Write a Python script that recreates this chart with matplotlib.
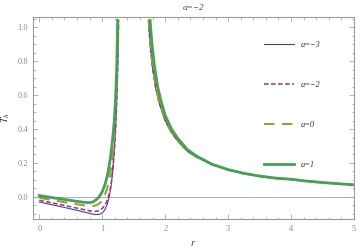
import numpy as np
import matplotlib
matplotlib.use("Agg")
import matplotlib.pyplot as plt

plt.rcParams['font.family'] = ['Liberation Serif', 'DejaVu Serif']
plt.rcParams['mathtext.fontset'] = 'stix'

# values: left branch (r < ~1.26) and right branch (r > ~1.73)
r_left_m3 = [0, 0.2, 0.4, 0.6, 0.7, 0.8, 0.85, 0.9, 0.95, 1.0, 1.04, 1.08, 1.11, 1.14, 1.16, 1.18, 1.2, 1.22, 1.24, 1.26]
T_left_m3 = [-0.03, -0.046, -0.062, -0.079, -0.088, -0.097, -0.101, -0.104, -0.103, -0.095, -0.077, -0.042, 0.0, 0.06, 0.13, 0.22, 0.33, 0.47, 0.7, 1.04]

r_left_m2 = [0, 0.2, 0.4, 0.6, 0.7, 0.8, 0.88, 0.95, 1.0, 1.05, 1.09, 1.12, 1.15, 1.17, 1.19, 1.21, 1.23, 1.25, 1.26]
T_left_m2 = [-0.02, -0.035, -0.05, -0.066, -0.074, -0.082, -0.086, -0.081, -0.068, -0.045, -0.01, 0.03, 0.1, 0.17, 0.26, 0.38, 0.55, 0.82, 1.04]

r_left_0 = [0, 0.2, 0.4, 0.6, 0.7, 0.8, 0.87, 0.93, 0.98, 1.03, 1.07, 1.1, 1.13, 1.16, 1.18, 1.2, 1.22, 1.24, 1.255]
T_left_0 = [-0.005, -0.018, -0.031, -0.043, -0.049, -0.054, -0.053, -0.045, -0.03, 0.0, 0.04, 0.08, 0.14, 0.23, 0.31, 0.42, 0.58, 0.82, 1.04]

r_left_1 = [0, 0.2, 0.4, 0.6, 0.7, 0.78, 0.85, 0.9, 0.95, 1.0, 1.05, 1.09, 1.13, 1.16, 1.19, 1.21, 1.23, 1.245]
T_left_1 = [0.008, -0.004, -0.015, -0.026, -0.031, -0.034, -0.03, -0.018, 0.0, 0.03, 0.08, 0.14, 0.23, 0.32, 0.44, 0.56, 0.75, 1.04]

r_right = [1.735, 1.76, 1.8, 1.85, 1.9, 2.0, 2.1, 2.2, 2.35, 2.5, 2.75, 3.0, 3.25, 3.5, 3.75, 4.0, 4.25, 4.5, 4.75, 5.0]
T_right_m3 = [1.04, 0.9, 0.76, 0.64, 0.56, 0.45, 0.38, 0.33, 0.27, 0.235, 0.19, 0.16, 0.138, 0.122, 0.11, 0.104, 0.093, 0.085, 0.078, 0.071]
T_right_m2 = T_right_m3
r_right_0 = [1.74, 1.765, 1.805, 1.855, 1.905, 2.0, 2.1, 2.2, 2.35, 2.5, 2.75, 3.0, 3.25, 3.5, 3.75, 4.0, 4.25, 4.5, 4.75, 5.0]
T_right_0 = T_right_m3
r_right_1 = [1.76, 1.79, 1.83, 1.88, 1.93, 2.0, 2.1, 2.2, 2.35, 2.5, 2.75, 3.0, 3.25, 3.5, 3.75, 4.0, 4.25, 4.5, 4.75, 5.0]
T_right_1 = [1.04, 0.9, 0.77, 0.65, 0.57, 0.48, 0.40, 0.345, 0.28, 0.24, 0.192, 0.161, 0.139, 0.123, 0.111, 0.104, 0.093, 0.085, 0.078, 0.071]

labels = ["a=\u22123", "a=\u22122", "a=0", "a=1"]

fig = plt.figure(figsize=(3.61, 2.5), dpi=100)
ax = fig.add_axes([33/361, 1-219/250, (354-33)/361, (219-17)/250])

ax.axhline(0, color='#b0b0b0', lw=0.7, zorder=1)

styles = [
    dict(color='#4b3fa6', lw=0.8),
    dict(color='#a3326b', lw=1.1, dashes=(3, 1.6)),
    dict(color='#a39a3a', lw=1.5, dashes=(5, 3.6)),
    dict(color='#45a153', lw=2.0),
]
series = [
    (r_left_m3, T_left_m3, r_right, T_right_m3),
    (r_left_m2, T_left_m2, r_right, T_right_m2),
    (r_left_0, T_left_0, r_right_0, T_right_0),
    (r_left_1, T_left_1, r_right_1, T_right_1),
]
for (rl, tl, rr, tr), st, lab in zip(series, styles, labels):
    ax.plot(rl, tl, label=lab, zorder=2, **st)
    ax.plot(rr, tr, zorder=2, **st)

ax.set_xlim(-0.1, 5.0)
ax.set_ylim(-0.13, 1.06)
ax.set_xticks(range(6))
ax.set_xticks(np.arange(-0.0, 5.01, 0.2), minor=True)
ax.set_yticks([0, 0.2, 0.4, 0.6, 0.8, 1.0])
ax.set_yticklabels(["0.0", "0.2", "0.4", "0.6", "0.8", "1.0"])
ax.set_yticks(np.arange(-0.1, 1.051, 0.05), minor=True)

for sp in ax.spines.values():
    sp.set_color('#9a9a9a')
    sp.set_linewidth(0.8)
ax.tick_params(which='both', direction='in', top=True, right=True, colors='#9a9a9a',
               labelcolor='#8a8a8a', labelsize=6, width=0.5)
ax.tick_params(which='major', length=3.5)
ax.tick_params(which='minor', length=1.8)
ax.tick_params(axis='x', pad=4)

ax.set_title("\u03b1=\u22122", fontsize=6.5, style='italic', color='#444444', pad=5)
ax.set_xlabel("$r$", fontsize=7, color='#333333', labelpad=5)
ax.set_ylabel("$T_h$", fontsize=7, color='#333333', labelpad=4)

ax.legend(loc='upper left', bbox_to_anchor=(264/361, 1-41/250), bbox_transform=fig.transFigure,
          frameon=False, prop={'style': 'italic', 'size': 6},
          handlelength=3.6, handletextpad=0.8, labelspacing=3.85, borderpad=0, borderaxespad=0,
          labelcolor='#333333')

fig.savefig("out.png", dpi=100)
